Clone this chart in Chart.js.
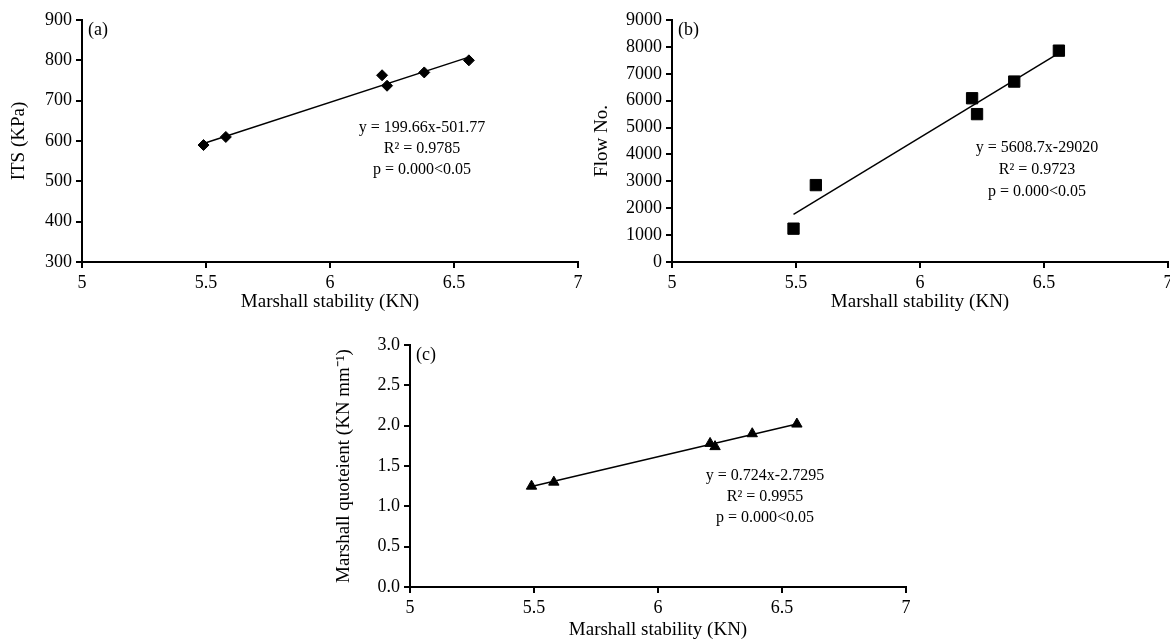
<!DOCTYPE html>
<html>
<head>
<meta charset="utf-8">
<script src="https://cdn.jsdelivr.net/npm/chart.js@4.4.1/dist/chart.umd.min.js"></script>
<style>
  html, body { margin: 0; padding: 0; background: #fff; }
  body { width: 1170px; height: 641px; position: relative; overflow: hidden; }
  canvas { position: absolute; }
</style>
</head>
<body>
<canvas id="chartA" width="590" height="313" style="left:0px;top:0px"></canvas>
<canvas id="chartB" width="590" height="313" style="left:590px;top:0px"></canvas>
<canvas id="chartC" width="590" height="316" style="left:328px;top:325px"></canvas>
<script>
// Marshall stability (KN), shared by all three panels
var stability = [5.49, 5.58, 6.21, 6.23, 6.38, 6.56];
var xTicks = [5, 5.5, 6, 6.5, 7];

// (a) ITS
var its = [590, 610, 763, 737, 770, 800];
var itsTrendX = [5.49, 6.56];
var itsTrendY = [594, 808];
var itsNotes = ['y = 199.66x-501.77', 'R\u00B2 = 0.9785', 'p = 0.000<0.05'];

// (b) Flow No.
var flow = [1240, 2860, 6090, 5500, 6710, 7860];
var flowTrendX = [5.49, 6.56];
var flowTrendY = [1770, 7770];
var flowNotes = ['y = 5608.7x-29020', 'R\u00B2 = 0.9723', 'p = 0.000<0.05'];

// (c) Marshall quotient
var quotient = [1.25, 1.30, 1.78, 1.74, 1.90, 2.02];
var quotientTrendX = [5.49, 6.56];
var quotientTrendY = [1.245, 2.02];
var quotientNotes = ['y = 0.724x-2.7295', 'R\u00B2 = 0.9955', 'p = 0.000<0.05'];

var FONT = "'Liberation Serif', 'Times New Roman', serif";

function toPoints(xs, ys) {
  return xs.map(function (x, i) { return { x: x, y: ys[i] }; });
}

// draws the panel letter and the regression text
var notesPlugin = {
  id: 'notes',
  afterDraw: function (chart, args, opts) {
    var ctx = chart.ctx;
    var area = chart.chartArea;
    ctx.save();
    ctx.fillStyle = '#000';
    ctx.font = '18px ' + FONT;
    ctx.textAlign = 'left';
    ctx.textBaseline = 'middle';
    ctx.fillText(opts.letter, area.left + 6, area.top + 10);
    ctx.font = '16px ' + FONT;
    ctx.textAlign = 'center';
    opts.lines.forEach(function (line, i) {
      ctx.fillText(line, opts.x, opts.y + i * opts.gap);
    });
    ctx.restore();
  }
};

function makeChart(id, cfg) {
  var ctx = document.getElementById(id).getContext('2d');
  return new Chart(ctx, {
    type: 'scatter',
    data: {
      datasets: [
        {
          label: 'points',
          data: toPoints(stability, cfg.values),
          pointStyle: cfg.marker,
          pointRadius: cfg.radius,
          pointBackgroundColor: '#000',
          pointBorderColor: '#000',
          pointBorderWidth: 1,
          showLine: false,
          order: 1
        },
        {
          label: 'trend',
          data: toPoints(cfg.trendX, cfg.trendY),
          showLine: true,
          borderColor: '#000',
          borderWidth: 1.5,
          pointRadius: 0,
          fill: false,
          order: 2
        }
      ]
    },
    options: {
      responsive: false,
      animation: false,
      devicePixelRatio: 1,
      layout: { padding: { top: 20, right: 12, left: 0, bottom: 0 } },
      plugins: {
        legend: { display: false },
        tooltip: { enabled: false },
        notes: cfg.notes
      },
      scales: {
        x: {
          type: 'linear',
          min: 5,
          max: 7,
          afterBuildTicks: function (scale) {
            scale.ticks = xTicks.map(function (v) { return { value: v }; });
          },
          afterFit: function (scale) { scale.height = cfg.xHeight; },
          border: { color: '#000', width: 2 },
          grid: { drawOnChartArea: false, color: '#000', lineWidth: 2, tickLength: 6 },
          ticks: {
            color: '#000',
            font: { family: FONT, size: 18 },
            padding: 4,
            maxRotation: 0,
            callback: function (v) { return String(v); }
          },
          title: {
            display: true,
            text: 'Marshall stability (KN)',
            color: '#000',
            font: { family: FONT, size: 19 },
            padding: { top: 0, bottom: 0 }
          }
        },
        y: {
          min: cfg.yMin,
          max: cfg.yMax,
          afterFit: function (scale) { scale.width = 82; },
          border: { color: '#000', width: 2 },
          grid: { drawOnChartArea: false, color: '#000', lineWidth: 2, tickLength: 6 },
          ticks: {
            stepSize: cfg.yStep,
            color: '#000',
            font: { family: FONT, size: 18 },
            padding: 4,
            callback: cfg.yFormat
          },
          title: {
            display: true,
            text: cfg.yTitle,
            color: '#000',
            font: { family: FONT, size: 19 },
            padding: { top: cfg.yTitlePad, bottom: 0 }
          }
        }
      }
    },
    plugins: [notesPlugin]
  });
}

makeChart('chartA', {
  values: its, trendX: itsTrendX, trendY: itsTrendY,
  marker: 'rectRot', radius: 5.5,
  yMin: 300, yMax: 900, yStep: 100, yTitle: 'ITS (KPa)', yTitlePad: 8,
  yFormat: function (v) { return v; },
  xHeight: 51,
  notes: { letter: '(a)', lines: itsNotes, x: 422, y: 128, gap: 21 }
});

makeChart('chartB', {
  values: flow, trendX: flowTrendX, trendY: flowTrendY,
  marker: 'rect', radius: 8,
  yMin: 0, yMax: 9000, yStep: 1000, yTitle: 'Flow No.', yTitlePad: 1,
  yFormat: function (v) { return v; },
  xHeight: 51,
  notes: { letter: '(b)', lines: flowNotes, x: 447, y: 148, gap: 22 }
});

makeChart('chartC', {
  values: quotient, trendX: quotientTrendX, trendY: quotientTrendY,
  marker: 'triangle', radius: 6,
  yMin: 0, yMax: 3, yStep: 0.5, yTitle: 'Marshall quoteient (KN mm\u207B\u00B9)', yTitlePad: 5,
  yFormat: function (v) { return v.toFixed(1); },
  xHeight: 54,
  notes: { letter: '(c)', lines: quotientNotes, x: 437, y: 151, gap: 21 }
});
</script>
</body>
</html>
